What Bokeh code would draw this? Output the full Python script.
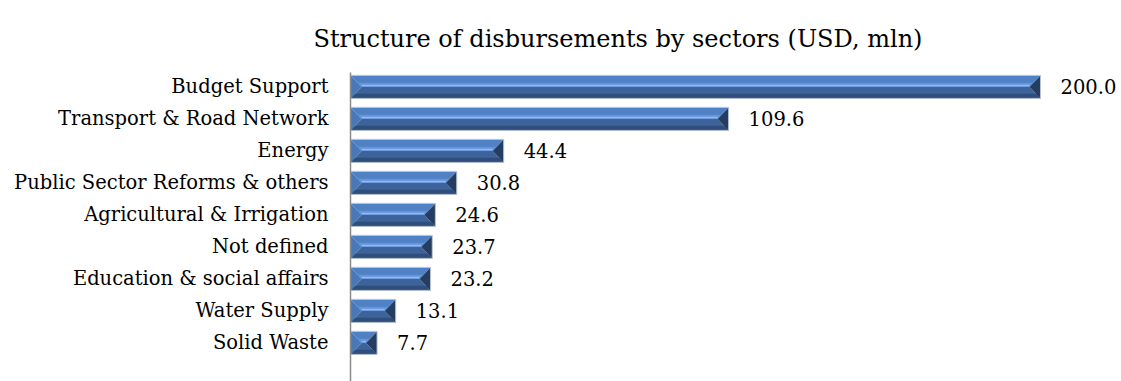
from bokeh.plotting import figure
from bokeh.models import Range1d, FixedTicker, ColumnDataSource
from bokeh.core.properties import value
from bokeh.embed import file_html
from bokeh.resources import INLINE

categories = ["Budget Support", "Transport & Road Network", "Energy",
              "Public Sector Reforms & others", "Agricultural & Irrigation",
              "Not defined", "Education & social affairs", "Water Supply",
              "Solid Waste"]
values = [200.0, 109.6, 44.4, 30.8, 24.6, 23.7, 23.2, 13.1, 7.7]
title_text = "Structure of disbursements by sectors (USD, mln)"

FONT = "DejaVu Serif"

W, H = 1120, 381
FL, FT = 350, 72
px_per_unit = 3.45
x_end = (W - FL) / px_per_unit
y_top = -0.45
y_bot = y_top + (H - FT) / 32.0

p = figure(width=W, height=H, output_backend="svg", toolbar_location=None,
           x_axis_location=None, x_range=Range1d(0, x_end),
           y_range=Range1d(start=y_bot, end=y_top),
           min_border_left=FL, min_border_right=0, min_border_top=FT,
           min_border_bottom=0)
p.outline_line_color = None
p.grid.visible = False
p.background_fill_color = "white"
p.border_fill_color = "white"

p.title.text = title_text
p.title.align = "left"
p.title.offset = -37
p.title.text_font = FONT
p.title.text_font_size = "24px"
p.title.text_font_style = "normal"
p.title.text_color = "#000000"
p.title.standoff = 40

ys = list(range(len(categories)))
hh = 0.36
dx_px = 11.0

top_xs, top_ys, bot_xs, bot_ys = [], [], [], []
lft_xs, lft_ys, rgt_xs, rgt_ys = [], [], [], []
hl_xs, hl_ys, lo_xs, lo_ys = [], [], [], []
mid_x0, mid_x1, mid_y = [], [], []
for c, v in zip(ys, values):
    d = min(dx_px / px_per_unit, v / 2)
    t, b = c - hh, c + hh
    top_xs.append([0, v, v - d, d]); top_ys.append([t, t, c, c])
    bot_xs.append([d, v - d, v, 0]); bot_ys.append([c, c, b, b])
    lft_xs.append([0, d, 0]); lft_ys.append([t, c, b])
    rgt_xs.append([v, v - d, v]); rgt_ys.append([t, c, b])
    k = 0.35
    hl_xs.append([d * (1 - k), v - d * (1 - k), v - d, d])
    hl_ys.append([c - hh * k, c - hh * k, c, c])
    k2 = 0.4
    lo_xs.append([d * k2, v - d * k2, v, 0])
    lo_ys.append([c + hh * (1 - k2), c + hh * (1 - k2), b, b])
    mid_x0.append(d); mid_x1.append(v - d); mid_y.append(c - 0.04)

# upper (lit) face
p.patches(top_xs, top_ys, fill_color="#4f81c6", line_color=None)
p.patches(hl_xs, hl_ys, fill_color="#6394d8", line_color=None)
# lower (shaded) face
p.patches(bot_xs, bot_ys, fill_color="#3c639b", line_color=None)
p.patches(lo_xs, lo_ys, fill_color="#2f4e7c", line_color=None)
# end faces
p.patches(lft_xs, lft_ys, fill_color="#4878b8", line_color=None)
p.patches(rgt_xs, rgt_ys, fill_color="#243d60", line_color=None)
# mid highlight line
p.segment(x0=mid_x0, y0=mid_y, x1=mid_x1, y1=mid_y, line_color="#94b8ea",
          line_width=1.5)
# thin outline
p.hbar(y=ys, left=0, right=values, height=2 * hh, fill_color=None,
       line_color="#b9c3d0", line_width=1)

src = ColumnDataSource(dict(x=values, y=ys, t=[f"{v:.1f}" for v in values]))
p.text(x="x", y="y", text="t", source=src, x_offset=20,
       text_baseline="middle", text_align="left", text_font=value(FONT),
       text_font_size="19.5px", text_color="#000000")

ax = p.yaxis[0]
ax.ticker = FixedTicker(ticks=ys)
ax.major_label_overrides = {i: c for i, c in enumerate(categories)}
ax.major_tick_line_color = None
ax.major_tick_out = 0
ax.major_tick_in = 0
ax.minor_tick_line_color = None
ax.axis_line_color = "#8a8a8a"
ax.axis_line_width = 1.5
ax.major_label_standoff = 22
ax.major_label_text_font = FONT
ax.major_label_text_font_size = "19.5px"
ax.major_label_text_color = "#000000"

open("out.html", "w").write(file_html(p, INLINE))
